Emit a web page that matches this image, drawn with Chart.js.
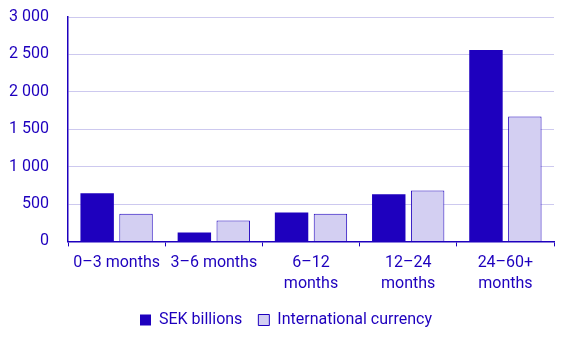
<!DOCTYPE html>
<html>
<head>
    <script src="https://cdn.jsdelivr.net/npm/chart.js"></script>
    <style>
        html, body { margin: 0; padding: 0; background: #fff; }
        #wrap { width: 568px; height: 340px; }
    </style>
</head>
<body>
    <div id="wrap"><canvas id="maturityChart"></canvas></div>
    <script>
        const categories = [
            "0–3 months",
            "3–6 months",
            ["6–12", "months"],
            ["12–24", "months"],
            ["24–60+", "months"],
        ];
        const sekBillions = [643, 120, 388, 629, 2558];
        const internationalCurrency = [371, 281, 371, 679, 1670];
        const yTicks = [0, 500, 1000, 1500, 2000, 2500, 3000];

        const ink = "#1e00be";
        const pale = "#d3cff2";

        Chart.defaults.font.family = "Roboto";
        Chart.defaults.font.size = 16;
        Chart.defaults.color = ink;

        // nudge the legend a bit to the right, like the original
        const legendShift = {
            id: "legendShift",
            afterLayout(chart) {
                chart.legend.left += 9;
                chart.legend.right += 9;
            },
        };

        const maturityChart = new Chart("maturityChart", {
            type: "bar",
            data: {
                labels: categories,
                datasets: [
                    {
                        label: "SEK billions",
                        data: sekBillions,
                        backgroundColor: ink,
                        borderColor: ink,
                        borderWidth: 0,
                    },
                    {
                        label: "International currency",
                        data: internationalCurrency,
                        backgroundColor: pale,
                        borderColor: ink,
                        borderWidth: 1,
                    },
                ],
            },
            plugins: [legendShift],
            options: {
                responsive: true,
                maintainAspectRatio: false,
                animation: false,
                categoryPercentage: 0.8,
                barPercentage: 0.86,
                layout: { padding: { top: 17, right: 14, left: 0, bottom: 2 } },
                plugins: {
                    tooltip: { enabled: false },
                    legend: {
                        position: "bottom",
                        labels: {
                            boxWidth: 11,
                            boxHeight: 11,
                            padding: 16,
                            color: ink,
                        },
                    },
                },
                scales: {
                    x: {
                        grid: {
                            offset: true,
                            drawOnChartArea: false,
                            drawTicks: true,
                            tickLength: 5,
                            color: ink,
                        },
                        border: { color: ink, width: 1.5 },
                        afterFit: (axis) => {
                            axis.height = axis.height - 4;
                        },
                        ticks: {
                            color: ink,
                            maxRotation: 0,
                            autoSkip: false,
                            padding: 6,
                            font: { lineHeight: 1.3 },
                        },
                    },
                    y: {
                        min: 0,
                        max: 3000,
                        afterBuildTicks: (axis) => {
                            axis.ticks = yTicks.map((v) => ({ value: v }));
                        },
                        afterFit: (axis) => {
                            axis.width = 68;
                            axis.paddingTop = 0;
                            axis.paddingBottom = 0;
                        },
                        grid: { color: "#cdc9ef", drawTicks: false },
                        border: { color: ink, width: 1.5 },
                        ticks: {
                            color: ink,
                            padding: 19,
                            callback: (v) => String(v).replace(/\B(?=(\d{3})+(?!\d))/g, " "),
                        },
                    },
                },
            },
        });
    </script>
</body>
</html>
